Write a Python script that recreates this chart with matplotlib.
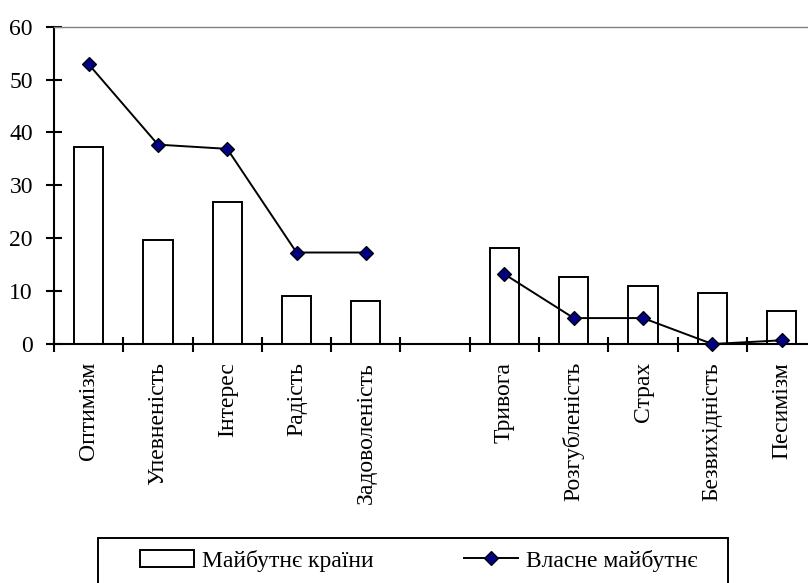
import numpy as np
import matplotlib
matplotlib.use('Agg')
import matplotlib.pyplot as plt
from matplotlib.patches import Rectangle

categories = ['Оптимізм', 'Упевненість', 'Інтерес', 'Радість', 'Задоволеність', '',
              'Тривога', 'Розгубленість', 'Страх', 'Безвихідність', 'Песимізм']
country_future = [37.3, 19.7, 26.8, 9.1, 8.2, np.nan, 18.1, 12.7, 10.9, 9.7, 6.3]
own_future = [52.9, 37.7, 36.9, 17.3, 17.3, np.nan, 13.2, 4.9, 4.9, 0.0, 0.7]
yticks = [0, 10, 20, 30, 40, 50, 60]
series_labels = ['Майбутнє країни', 'Власне майбутнє']

plt.rcParams['font.family'] = ['Liberation Serif', 'DejaVu Serif']

W, H = 808, 583
fig = plt.figure(figsize=(W / 100, H / 100), dpi=100)
ax = fig.add_axes([54 / W, 1 - 344 / H, 762.3 / W, 317.3 / H])

x = np.arange(len(categories)) + 0.5
bars = ax.bar(x, country_future, width=0.42, facecolor='white', edgecolor='black',
              linewidth=1.4, zorder=2)
line, = ax.plot(x, own_future, color='black', lw=1.4, marker='D', markersize=7,
                markerfacecolor='#000080', markeredgecolor='black', markeredgewidth=0.9,
                zorder=3, clip_on=False)

ax.set_xlim(0, len(categories))
ax.set_ylim(0, 60)
ax.set_yticks(yticks)
ax.set_xticks(np.arange(len(categories) + 1))
ax.set_xticklabels([])
ax.set_xticks(x, minor=True)
ax.set_xticklabels(categories, minor=True, rotation=90, fontsize=17)
ax.tick_params(axis='x', which='major', direction='inout', length=10.8, width=1.5)
ax.tick_params(axis='x', which='minor', length=0, pad=13)
ax.tick_params(axis='y', direction='inout', length=11.5, width=1.5, labelsize=17, pad=9.4)

ax.spines['right'].set_visible(False)
ax.spines['top'].set_color('#808080')
ax.spines['top'].set_linewidth(1.0)
ax.spines['left'].set_linewidth(1.5)
ax.spines['bottom'].set_linewidth(1.5)

fs_px = 17 * 100 / 72
fig.legend([bars, line], series_labels, loc='center left',
           bbox_to_anchor=(140 / W, 1 - 560.5 / H, 557 / W, 0), mode='expand', ncol=2,
           frameon=False, borderpad=0, borderaxespad=0,
           handlelength=54 / fs_px, handleheight=17 / fs_px, handletextpad=8 / fs_px,
           fontsize=17, numpoints=1)

fig.add_artist(Rectangle((98 / W, -0.1), (728 - 98) / W, 0.1 + 1 - 538 / H,
                         transform=fig.transFigure, fill=False, lw=1.4, ec='black'))

fig.savefig('out.png', dpi=100)
